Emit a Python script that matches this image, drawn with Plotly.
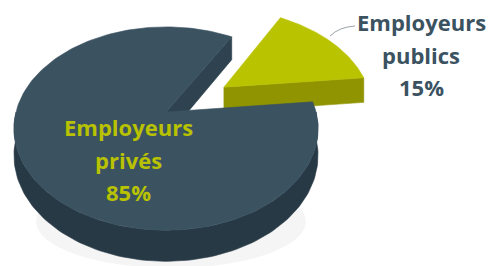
import numpy as np
import plotly.graph_objects as go

# ---- data ----
labels = ["Employeurs privés", "Employeurs publics"]
values = [85, 15]

# ---- styling / geometry ----
top_colors = ["#3b5261", "#bac300"]
side_colors = ["#263945", "#8b9000"]
cut_colors = ["#2e434f", "#8f9400"]
pulls = [0.0, 0.48]
CX, CY = 166, 112        # screen position of the pie centre
SX, SY = 150, 99         # horizontal / vertical scale
K = 0.163                # perspective strength
DEPTH = 26               # thickness
START_DEG = 6            # where the small slice starts (counter-clockwise)

total = sum(values)
span_pub = 360.0 * values[1] / total
angles = {
    1: (START_DEG, START_DEG + span_pub),
    0: (START_DEG + span_pub, START_DEG + 360.0),
}


def proj(u, v, dz=0.0):
    w = 1.0 + K * v
    return CX + SX * u / w, CY - SY * v / w + dz / w


def rim(t_deg, off, dz=0.0):
    t = np.radians(t_deg)
    return proj(np.cos(t) + off[0], np.sin(t) + off[1], dz)


fig = go.Figure()

# faint shadow under the front of the pie
fig.add_shape(type="circle", xref="x", yref="y",
              x0=CX - 130, x1=CX + 140, y0=175, y1=268,
              fillcolor="rgba(0,0,0,0.04)", line=dict(width=0), layer="below")


def poly(xs, ys, color, name=None):
    fig.add_trace(go.Scatter(
        x=xs, y=ys, fill="toself", fillcolor=color, mode="lines",
        line=dict(width=0.6, color=color), hoverinfo="skip",
        name=name, showlegend=False))


for i in [1, 0]:
    a0, a1 = angles[i]
    mid = np.radians((a0 + a1) / 2)
    off = (pulls[i] * np.cos(mid), pulls[i] * np.sin(mid))
    cx, cy = proj(off[0], off[1])
    cxb, cyb = proj(off[0], off[1], DEPTH)

    # outer side (front half only)
    lo, hi = max(a0, 180), min(a1, 360)
    if hi > lo:
        ts = np.linspace(lo, hi, 120)
        xt, yt = rim(ts, off)
        xb, yb = rim(ts[::-1], off, DEPTH)
        poly(np.concatenate([xt, xb]), np.concatenate([yt, yb]), side_colors[i])

    # visible cut face at the start edge (normal toward a0 - 90)
    if np.sin(np.radians(a0 - 90)) < 0:
        ex, ey = rim(a0, off)
        exb, eyb = rim(a0, off, DEPTH)
        poly([cx, ex, exb, cxb, cx], [cy, ey, eyb, cyb, cy], cut_colors[i])

    # top face
    ts = np.linspace(a0, a1, 200)
    xs, ys = rim(ts, off)
    poly(np.concatenate([[cx], xs, [cx]]), np.concatenate([[cy], ys, [cy]]),
         top_colors[i], labels[i])

# ---- labels ----
FONT = "Open Sans"


def label_lines(i):
    return labels[i].split(" ") + [f"{round(100 * values[i] / total)}%"]


pos = {0: (128, 127, "#b8c200"), 1: (421, 22, "#3b5261")}
for i in [0, 1]:
    x0, y0, col = pos[i]
    for k, line in enumerate(label_lines(i)):
        fig.add_annotation(x=x0, y=y0 + 32.5 * k, xref="x", yref="y",
                           text=f"<b>{line}</b>", showarrow=False,
                           font=dict(family=FONT, size=22, color=col),
                           xanchor="center", yanchor="middle")

# leader line
fig.add_shape(type="path", xref="x", yref="y",
              path="M 330,36 Q 339,27 355,26", line=dict(color="#9aa3a8", width=1))

fig.update_layout(
    width=499, height=266, autosize=False,
    margin=dict(l=0, r=0, t=0, b=0),
    paper_bgcolor="white", plot_bgcolor="white",
    xaxis=dict(range=[0, 499], visible=False, fixedrange=True),
    yaxis=dict(range=[266, 0], visible=False, fixedrange=True),
)
fig.write_html("out.html", config={"displayModeBar": False},
               post_script="document.body.style.margin='0';document.body.style.overflow='hidden';")
